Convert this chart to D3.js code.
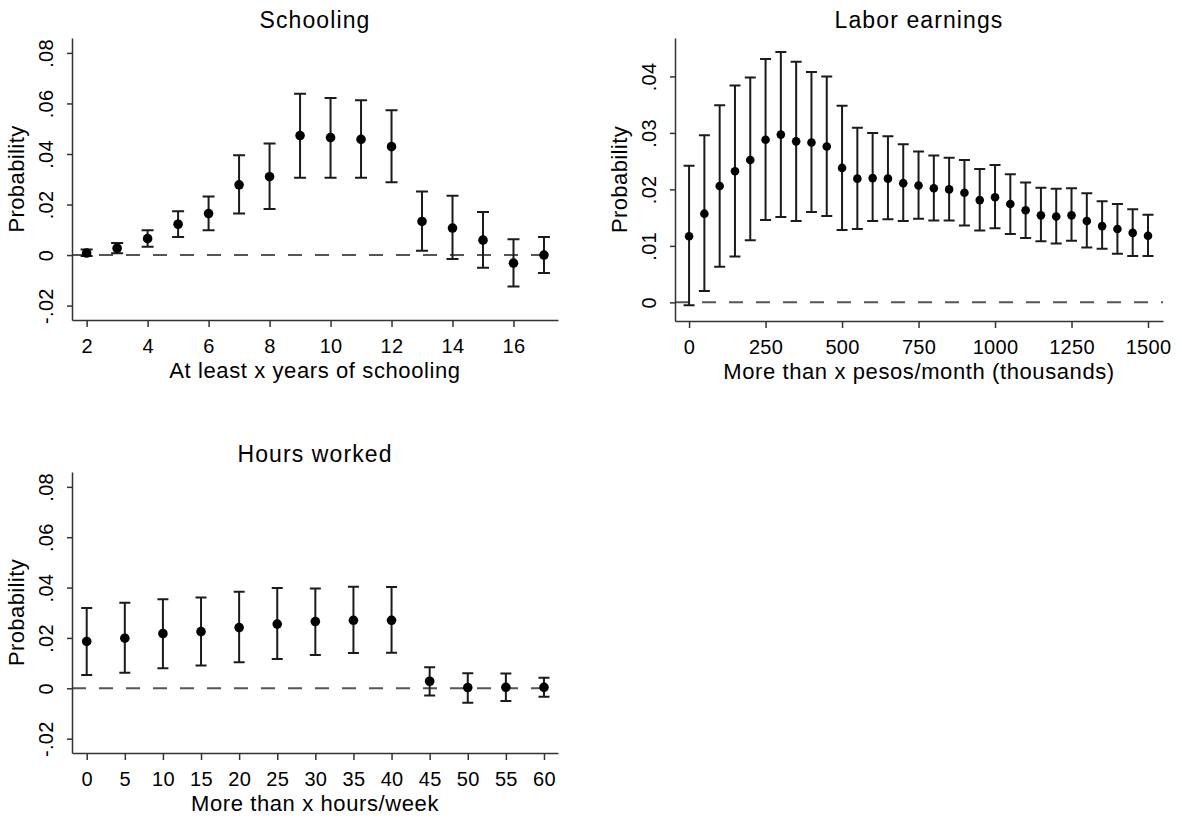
<!DOCTYPE html>
<html>
<head>
<meta charset="utf-8">
<script src="https://cdn.jsdelivr.net/npm/d3@7"></script>
<style>
  body { margin: 0; background: #fff; }
  svg { display: block; font-family: "Liberation Sans", Arial, Helvetica, sans-serif; }
</style>
</head>
<body>
<div id="viz"></div>
<script>
// Schooling: at least x years of schooling
const schoolX = [2, 3, 4, 5, 6, 7, 8, 9, 10, 11, 12, 13, 14, 15, 16, 17];
const schoolEst = [0.0008, 0.0027, 0.0065, 0.0122, 0.0164, 0.0278, 0.0310, 0.0473, 0.0465, 0.0458, 0.0429, 0.0133, 0.0107, 0.0059, -0.0032, 0.0000];
const schoolLo = [-0.0004, 0.0007, 0.0033, 0.0071, 0.0098, 0.0164, 0.0182, 0.0306, 0.0306, 0.0306, 0.0288, 0.0017, -0.0016, -0.0050, -0.0124, -0.0071];
const schoolHi = [0.0022, 0.0048, 0.0098, 0.0173, 0.0232, 0.0395, 0.0441, 0.0638, 0.0622, 0.0613, 0.0573, 0.0252, 0.0235, 0.0170, 0.0063, 0.0071];
const schoolXTicks = [2, 4, 6, 8, 10, 12, 14, 16];

// Labor earnings: more than x pesos/month (thousands)
const earnX = [0, 50, 100, 150, 200, 250, 300, 350, 400, 450, 500, 550, 600, 650, 700, 750,
  800, 850, 900, 950, 1000, 1050, 1100, 1150, 1200, 1250, 1300, 1350, 1400, 1450, 1500];
const earnEst = [0.0117, 0.0157, 0.0206, 0.0232, 0.0252, 0.0288, 0.0297, 0.0285, 0.0283, 0.0276, 0.0238, 0.0219, 0.0220, 0.0219, 0.0211, 0.0207,
  0.0202, 0.0200, 0.0194, 0.0181, 0.0186, 0.0174, 0.0163, 0.0154, 0.0152, 0.0154, 0.0144, 0.0135, 0.0130, 0.0123, 0.0118];
const earnLo = [-0.0005, 0.0020, 0.0063, 0.0081, 0.0110, 0.0146, 0.0151, 0.0144, 0.0160, 0.0153, 0.0128, 0.0130, 0.0144, 0.0147, 0.0144, 0.0148,
  0.0145, 0.0145, 0.0136, 0.0127, 0.0131, 0.0121, 0.0114, 0.0108, 0.0104, 0.0109, 0.0097, 0.0095, 0.0086, 0.0082, 0.0082];
const earnHi = [0.0242, 0.0296, 0.0349, 0.0384, 0.0398, 0.0431, 0.0443, 0.0426, 0.0408, 0.0400, 0.0348, 0.0309, 0.0300, 0.0294, 0.0280, 0.0267,
  0.0260, 0.0256, 0.0252, 0.0236, 0.0243, 0.0227, 0.0212, 0.0203, 0.0201, 0.0202, 0.0193, 0.0179, 0.0174, 0.0165, 0.0155];
const earnXTicks = [0, 250, 500, 750, 1000, 1250, 1500];

// Hours worked: more than x hours/week
const hoursX = [0, 5, 10, 15, 20, 25, 30, 35, 40, 45, 50, 55, 60];
const hoursEst = [0.0186, 0.0199, 0.0217, 0.0225, 0.0241, 0.0255, 0.0265, 0.0270, 0.0270, 0.0028, 0.0003, 0.0004, 0.0004];
const hoursLo = [0.0053, 0.0062, 0.0080, 0.0091, 0.0103, 0.0116, 0.0132, 0.0140, 0.0141, -0.0029, -0.0057, -0.0050, -0.0034];
const hoursHi = [0.0319, 0.0340, 0.0354, 0.0361, 0.0383, 0.0398, 0.0396, 0.0403, 0.0402, 0.0084, 0.0060, 0.0059, 0.0042];
const hoursXTicks = [0, 5, 10, 15, 20, 25, 30, 35, 40, 45, 50, 55, 60];

const probTicksWide = [-0.02, 0, 0.02, 0.04, 0.06, 0.08];
const probTicksEarn = [0, 0.01, 0.02, 0.03, 0.04];

const WIDTH = 1182, HEIGHT = 821;
const INK = "#1b1b1b";

const svg = d3.select("#viz").append("svg")
  .attr("width", WIDTH)
  .attr("height", HEIGHT);

// Stata style: drop the leading zero, plain hyphen for negatives
const probFormat = v => {
  if (Math.abs(v) < 1e-9) return "0";
  return d3.format(".2f")(v).replace("\u2212", "-").replace("0.", ".");
};

function panel({title, xLabel, xs, est, lo, hi, xDomain, yDomain, xTicks, yTicks, left, right, top, bottom, cap, r}) {
  const x = d3.scaleLinear().domain(xDomain).range([left, right]);
  const y = d3.scaleLinear().domain(yDomain).range([bottom, top]);
  const g = svg.append("g");
  const pts = xs.map((v, i) => ({x: v, est: est[i], lo: lo[i], hi: hi[i]}));

  g.append("text")
    .attr("x", (left + right) / 2)
    .attr("y", top - 10)
    .attr("text-anchor", "middle")
    .attr("fill", "#000")
    .style("font-size", "23px")
    .style("letter-spacing", "1.1px")
    .text(title);

  // zero reference line
  g.append("line")
    .attr("x1", left).attr("x2", right)
    .attr("y1", y(0)).attr("y2", y(0))
    .attr("stroke", "#555")
    .attr("stroke-width", 2)
    .attr("stroke-dasharray", "14,13");

  const yAxis = g.append("g")
    .attr("transform", `translate(${left},0)`)
    .call(d3.axisLeft(y).tickValues(yTicks).tickFormat(probFormat).tickSize(5).tickSizeOuter(0));
  yAxis.selectAll("text")
    .attr("x", 0).attr("dy", 0)
    .attr("text-anchor", "middle")
    .attr("transform", "translate(-19,0) rotate(-90)");

  const xAxis = g.append("g")
    .attr("transform", `translate(0,${bottom})`)
    .call(d3.axisBottom(x).tickValues(xTicks).tickFormat(d3.format("d")).tickSize(7).tickSizeOuter(0));
  xAxis.selectAll("text").attr("y", 33).attr("dy", 0);

  [yAxis, xAxis].forEach(a => {
    a.selectAll("path, line").attr("stroke", "#333").attr("stroke-width", 1.5);
    a.selectAll("text")
      .attr("fill", "#000")
      .style("font-size", "20px")
      .style("font-family", "'Liberation Sans', Arial, sans-serif")
      .style("letter-spacing", "0.3px");
  });

  g.append("text")
    .attr("transform", `translate(${left - 48},${(top + bottom) / 2}) rotate(-90)`)
    .attr("text-anchor", "middle")
    .attr("fill", "#000")
    .style("font-size", "22px")
    .style("letter-spacing", "0.4px")
    .text("Probability");

  g.append("text")
    .attr("x", (left + right) / 2)
    .attr("y", bottom + 58)
    .attr("text-anchor", "middle")
    .attr("fill", "#000")
    .style("font-size", "22px")
    .style("letter-spacing", "0.6px")
    .text(xLabel);

  // confidence intervals with caps
  const bars = g.append("g")
    .attr("stroke", INK)
    .attr("stroke-width", 2)
    .attr("fill", "none");
  bars.selectAll(".ci")
    .data(pts)
    .join("path")
    .attr("class", "ci")
    .attr("d", d => {
      const cx = x(d.x), yl = y(d.lo), yh = y(d.hi), h = cap / 2;
      return `M${cx - h},${yh}H${cx + h}M${cx},${yh}V${yl}M${cx - h},${yl}H${cx + h}`;
    });

  g.selectAll(".pt")
    .data(pts)
    .join("circle")
    .attr("class", "pt")
    .attr("cx", d => x(d.x))
    .attr("cy", d => y(d.est))
    .attr("r", r)
    .attr("fill", "#000");
}

panel({
  title: "Schooling", xLabel: "At least x years of schooling",
  xs: schoolX, est: schoolEst, lo: schoolLo, hi: schoolHi,
  xDomain: [1.52, 17.46], yDomain: [-0.0257, 0.0859],
  xTicks: schoolXTicks, yTicks: probTicksWide,
  left: 72, right: 558, top: 38, bottom: 320, cap: 12, r: 4.8
});

panel({
  title: "Labor earnings", xLabel: "More than x pesos/month (thousands)",
  xs: earnX, est: earnEst, lo: earnLo, hi: earnHi,
  xDomain: [-46, 1549], yDomain: [-0.0033, 0.0468],
  xTicks: earnXTicks, yTicks: probTicksEarn,
  left: 675, right: 1163, top: 38, bottom: 321, cap: 11, r: 4.3
});

panel({
  title: "Hours worked", xLabel: "More than x hours/week",
  xs: hoursX, est: hoursEst, lo: hoursLo, hi: hoursHi,
  xDomain: [-1.93, 61.84], yDomain: [-0.0257, 0.0859],
  xTicks: hoursXTicks, yTicks: probTicksWide,
  left: 72, right: 558, top: 472, bottom: 753, cap: 11, r: 4.8
});
</script>
</body>
</html>
